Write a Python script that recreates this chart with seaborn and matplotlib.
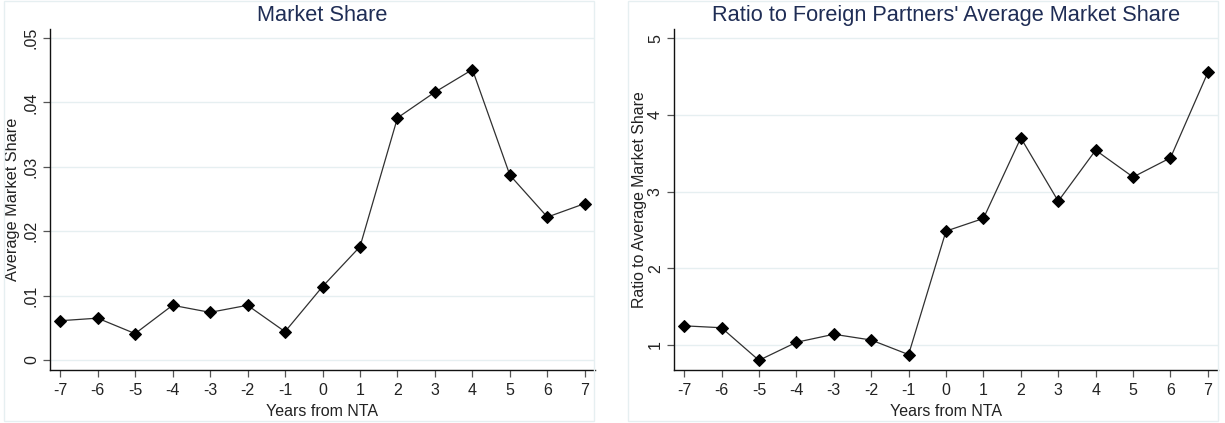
import numpy as np
import pandas as pd
import matplotlib
matplotlib.use("Agg")
import matplotlib.pyplot as plt
import seaborn as sns
from matplotlib.patches import Rectangle

years = [-7, -6, -5, -4, -3, -2, -1, 0, 1, 2, 3, 4, 5, 6, 7]
market_share = [0.0061, 0.0065, 0.0041, 0.0085, 0.0074, 0.0085, 0.0044,
                0.0114, 0.0176, 0.0376, 0.0416, 0.0451, 0.0287, 0.0222, 0.0243]
ratio = [1.25, 1.225, 0.80, 1.035, 1.14, 1.065, 0.875,
         2.485, 2.65, 3.70, 2.875, 3.54, 3.19, 3.44, 4.555]

left_yticks = [0, 0.01, 0.02, 0.03, 0.04, 0.05]
left_yticklabels = ["0", ".01", ".02", ".03", ".04", ".05"]
right_yticks = [1, 2, 3, 4, 5]
right_yticklabels = ["1", "2", "3", "4", "5"]

titles = ["Market Share", "Ratio to Foreign Partners' Average Market Share"]
ylabels = ["Average Market Share", "Ratio to Average Market Share"]
xlabel = "Years from NTA"

sns.set_theme(style="white")
plt.rcParams["font.family"] = ["Liberation Sans", "DejaVu Sans"]

W, H = 1225, 423
fig = plt.figure(figsize=(W / 100, H / 100), dpi=100)

grid_col = "#E6EFF1"
title_col = "#1F2D55"

# panel frames
for (x0, x1) in [(4, 594), (628, 1218)]:
    fig.patches.append(Rectangle((x0 / W, 1 - 421 / H), (x1 - x0) / W, 420 / H,
                                 transform=fig.transFigure, fill=False,
                                 edgecolor=grid_col, linewidth=1.0))

df1 = pd.DataFrame({"year": years, "value": market_share})
df2 = pd.DataFrame({"year": years, "value": ratio})

specs = [
    dict(df=df1, rect=(50, 595), ylim=(-0.00155, 0.0514), yt=left_yticks,
         ytl=left_yticklabels, ylpad=3, ylfs=11.7),
    dict(df=df2, rect=(674, 1218), ylim=(0.674, 5.12), yt=right_yticks,
         ytl=right_yticklabels, ylpad=1, ylfs=11.4),
]

top_px, bot_px = 29, 370
for i, s in enumerate(specs):
    x0, x1 = s["rect"]
    ax = fig.add_axes([x0 / W, 1 - bot_px / H, (x1 - x0) / W, (bot_px - top_px) / H])
    sns.lineplot(data=s["df"], x="year", y="value", ax=ax, color="#303030",
                 linewidth=0.9, marker="D", markersize=6.3,
                 markerfacecolor="black", markeredgecolor="black")
    ax.set_xlim(-7.27, 7.27)
    ax.set_ylim(*s["ylim"])
    ax.set_xticks(years)
    ax.set_xticklabels([str(y) for y in years], fontsize=11.5, color="#222222")
    ax.set_yticks(s["yt"])
    ax.set_yticklabels(s["ytl"], fontsize=11.5, color="#222222", rotation=90, va="center")
    for t in s["yt"]:
        ax.axhline(t, color=grid_col, linewidth=1.0, zorder=0)
    ax.tick_params(axis="x", direction="out", length=5, width=0.9, color="#555555",
                   bottom=True, pad=4.5)
    ax.tick_params(axis="y", direction="out", length=5, width=0.9, color="#555555",
                   left=True, pad=3)
    for sp in ["top", "right"]:
        ax.spines[sp].set_visible(False)
    for sp in ["left", "bottom"]:
        ax.spines[sp].set_color("#111111")
        ax.spines[sp].set_linewidth(1.0)
    ax.set_xlabel(xlabel, fontsize=11.5, color="#222222", labelpad=4)
    ax.set_ylabel(ylabels[i], fontsize=s["ylfs"], color="#222222", labelpad=s["ylpad"])
    ax.set_title(titles[i], fontsize=15.7, color=title_col, pad=6)

fig.savefig("out.png", dpi=100)
